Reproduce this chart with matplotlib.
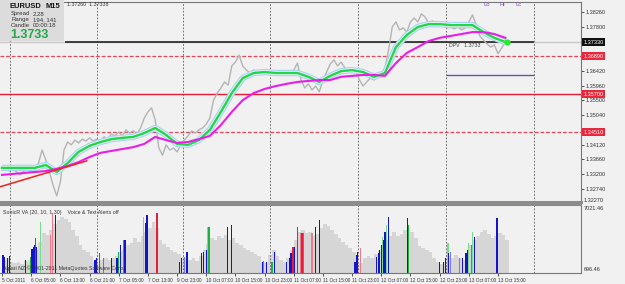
import matplotlib.pyplot as plt
from matplotlib.patches import Rectangle
import numpy as np

plt.rcParams['font.family'] = ['Liberation Sans', 'DejaVu Sans']

# EURUSD M15 closes, one reading every 4 bars
close = [1.3332, 1.3339, 1.3329, 1.3336, 1.3326, 1.3317, 1.3329, 1.3336, 1.3326, 1.3339,
         1.3354, 1.3395, 1.3364, 1.3326, 1.3285, 1.3251, 1.3295, 1.3395, 1.3420, 1.3411,
         1.3426, 1.3417, 1.3429, 1.3423, 1.3433, 1.3423, 1.3429, 1.3423, 1.3436, 1.3429,
         1.3445, 1.3439, 1.3451, 1.3439, 1.3458, 1.3448, 1.3455, 1.3445, 1.3464, 1.3495,
         1.3514, 1.3527, 1.3489, 1.3401, 1.3379, 1.3411, 1.3395, 1.3401, 1.3389, 1.3411,
         1.3426, 1.3439, 1.3455, 1.3448, 1.3458, 1.3464, 1.3476, 1.3495, 1.3551, 1.3573,
         1.3589, 1.3608, 1.3598, 1.3658, 1.3670, 1.3692, 1.3658, 1.3645, 1.3636, 1.3645,
         1.3639, 1.3642, 1.3636, 1.3639, 1.3633, 1.3639, 1.3630, 1.3636, 1.3633, 1.3639,
         1.3645, 1.3667, 1.3614, 1.3589, 1.3602, 1.3583, 1.3595, 1.3577, 1.3614, 1.3639,
         1.3664, 1.3677, 1.3658, 1.3670, 1.3652, 1.3645, 1.3652, 1.3639, 1.3614, 1.3595,
         1.3608, 1.3620, 1.3614, 1.3624, 1.3633, 1.3652, 1.3708, 1.3780, 1.3796, 1.3771,
         1.3777, 1.3764, 1.3796, 1.3808, 1.3796, 1.3821, 1.3811, 1.3793, 1.3799, 1.3789,
         1.3796, 1.3786, 1.3777, 1.3780, 1.3774, 1.3780, 1.3771, 1.3777, 1.3796, 1.3818,
         1.3786, 1.3752, 1.3739, 1.3727, 1.3717, 1.3724, 1.3696, 1.3714, 1.3733]

# moving averages, one reading every 12 bars
ma_fast = [1.3339, 1.3339, 1.3339, 1.3339, 1.3348, 1.3326, 1.3354, 1.3389, 1.3408, 1.3420,
           1.3429, 1.3433, 1.3436, 1.3448, 1.3464, 1.3442, 1.3414, 1.3411, 1.3426, 1.3458,
           1.3514, 1.3573, 1.3620, 1.3636, 1.3639, 1.3636, 1.3636, 1.3636, 1.3624, 1.3608,
           1.3627, 1.3642, 1.3645, 1.3639, 1.3624, 1.3636, 1.3717, 1.3755, 1.3780, 1.3789,
           1.3789, 1.3786, 1.3786, 1.3786, 1.3764, 1.3746, 1.3733]
ma_slow = [1.3317, 1.3320, 1.3323, 1.3326, 1.3329, 1.3336, 1.3345, 1.3357, 1.3373, 1.3386,
           1.3392, 1.3398, 1.3404, 1.3414, 1.3436, 1.3426, 1.3417, 1.3420, 1.3429, 1.3439,
           1.3473, 1.3514, 1.3551, 1.3573, 1.3586, 1.3595, 1.3602, 1.3608, 1.3611, 1.3614,
           1.3614, 1.3624, 1.3627, 1.3630, 1.3630, 1.3627, 1.3667, 1.3699, 1.3717, 1.3736,
           1.3746, 1.3752, 1.3758, 1.3764, 1.3764, 1.3758, 1.3746]

# tick volume, one reading every 4 bars
volume = [1900, 2070, 1700, 1600, 1700, 1500, 1800, 1900, 2160, 2820,
          3560, 4400, 4220, 4690, 5250, 5620, 5900, 5710, 5430, 4690,
          4120, 3280, 2820, 2630, 2250, 1700, 1500, 1900, 2070, 1900,
          2070, 2250, 2630, 2820, 3280, 3470, 3940, 3560, 4120, 4500,
          4880, 5430, 4880, 3750, 3380, 3100, 2820, 2630, 2440, 2160,
          2070, 1900, 2070, 1800, 2250, 2820, 3380, 3940, 3750, 4120,
          3940, 4220, 3750, 3940, 3470, 3280, 3000, 2820, 2630, 2440,
          2250, 1700, 1600, 2350, 2820, 2250, 1900, 1700, 2070, 2820,
          3750, 4500, 4690, 4400, 4500, 4120, 4310, 4880, 5250, 5060,
          4690, 4310, 3940, 3560, 3280, 3000, 2630, 1700, 1600, 2070,
          2250, 2070, 2440, 2820, 3280, 3750, 4120, 4500, 4120, 4310,
          4690, 4880, 4500, 3940, 3190, 3000, 2820, 2630, 2070, 1700,
          1500, 1700, 2250, 2070, 2350, 2070, 1900, 2440, 3280, 3750,
          4120, 4500, 4690, 4310, 3940, 4120, 4400, 4220, 3750]

# SonicR VA highlighted bars
signal_bar = [1, 3, 6, 8, 26, 31, 33, 35, 36, 37, 38, 42, 53, 55, 59,
              102, 104, 107, 111, 120, 126, 128, 130, 133, 135, 155, 157, 159, 170,
              195, 197, 200, 203, 219, 221, 224, 226, 227, 247, 252,
              286, 287, 290, 296, 299, 312, 315, 317, 319, 321, 324, 327, 329, 331,
              340, 344, 348, 387, 389, 390, 393, 411, 413, 414, 416, 417, 418, 420,
              422, 424, 445, 446, 480, 484, 486, 489, 490, 492, 502, 505, 509, 511,
              512, 515, 516, 518, 542, 543]
signal_vol = [2350, 2160, 2070, 2250, 1900, 2160, 2900, 3100, 3300, 3940, 3100, 5430, 4220, 6270, 6090,
              1900, 2070, 2540, 2070, 2070, 2070, 2630, 3280, 3750, 3750, 5900, 5340, 6090, 6270,
              1700, 2070, 2160, 2630, 2540, 2630, 2820, 4970, 4970, 4970, 5150,
              1700, 1800, 1700, 1700, 2630, 1700, 2070, 2540, 3100, 3100, 4970, 4400, 4400, 4400,
              4400, 4970, 5620, 1700, 2350, 2630, 3000, 2160, 2540, 2820, 3280, 4030, 3750, 4500,
              5150, 5900, 5800, 5150, 1700, 1700, 2070, 3470, 2540, 2630, 2070, 2070, 2540, 2820,
              3470, 3280, 4500, 4030, 5800, 5800]
signal_kind = ['B', 'B', 'B', 'B', 'B', 'G', 'B', 'B', 'B', 'R', 'B', 'g', 'r', 'r', 'B',
               'B', 'B', 'R', 'G', 'B', 'B', 'G', 'B', 'G', 'B', 'g', 'B', 'B', 'R',
               'B', 'B', 'b', 'B', 'B', 'B', 'B', 'g', 'G', 'B', 'B',
               'B', 'b', 'B', 'G', 'B', 'B', 'B', 'B', 'R', 'B', 'R', 'r', 'R', 'G',
               'r', 'B', 'B', 'B', 'B', 'B', 'r', 'B', 'B', 'B', 'B', 'g', 'B', 'B',
               'g', 'B', 'B', 'G', 'B', 'B', 'B', 'g', 'B', 'b', 'b', 'B', 'B', 'B',
               'g', 'G', 'g', 'B', 'R', 'B']

SIGNAL_COLORS = {'B': '#1414c8', 'b': '#7878e8', 'G': '#1eb43c',
                 'g': '#78dc8c', 'R': '#e61e3c', 'r': '#f0788c'}

time_labels = ['5 Oct 2011', '6 Oct 05:00', '6 Oct 13:00', '6 Oct 21:00', '7 Oct 05:00',
               '7 Oct 13:00', '9 Oct 23:00', '10 Oct 07:00', '10 Oct 15:00', '10 Oct 23:00',
               '11 Oct 07:00', '11 Oct 15:00', '11 Oct 23:00', '12 Oct 07:00', '12 Oct 15:00',
               '12 Oct 23:00', '13 Oct 07:00', '13 Oct 15:00']
day_start_bars = [9, 104, 199, 294, 390, 487, 583]

trend_bars = [-2, 93]
trend_prices = [1.3280, 1.3361]

price_now = 1.3733
red_levels = [1.3689, 1.3570, 1.3451]
dpv_level = 1.3630
price_ticks = [1.3826, 1.3780, 1.3642, 1.3596, 1.3550, 1.3504, 1.3412, 1.3366, 1.3320, 1.3274]

W, H = 625, 284
BG = '#f1f1f1'


def box(x0, y0, x1, y1):
    # pixel box (top-left origin) -> figure fraction rect
    return [x0 / W, 1 - y1 / H, (x1 - x0) / W, (y1 - y0) / H]


fig = plt.figure(figsize=(W / 100, H / 100), dpi=100)
fig.patch.set_facecolor(BG)

ax = fig.add_axes(box(0, 2, 581, 202))
axv = fig.add_axes(box(0, 205, 581, 272.7), sharex=ax)
for a in (ax, axv):
    a.set_facecolor(BG)
    for s in a.spines.values():
        s.set_color('#777777')
        s.set_linewidth(0.8)
    a.spines['left'].set_visible(False)
ax.spines['bottom'].set_linewidth(2.2)
ax.spines['bottom'].set_color('#8c8c8c')
axv.spines['top'].set_linewidth(1.5)
axv.spines['top'].set_color('#8c8c8c')

# ---- price panel
for b in day_start_bars:
    ax.axvline(b, color='#555555', lw=0.6, ls=(0, (2, 2)))
    axv.axvline(b, color='#555555', lw=0.6, ls=(0, (2, 2)))

ax.axhline(price_now, color='#c8c8c8', lw=1)
ax.hlines(price_now, 69, 584, color='#222222', lw=1.2)
ax.hlines(dpv_level, 487, 584, color='#5a5aa0', lw=1)
ax.axhline(red_levels[0], color='#e0485a', lw=0.9, ls=(0, (3, 1.5)))
ax.axhline(red_levels[1], color='#e01e32', lw=1.0)
ax.axhline(red_levels[2], color='#e0485a', lw=0.9, ls=(0, (3, 1.5)))

price_bars = np.arange(len(close)) * 4
ma_bars = np.arange(len(ma_fast)) * 12
ax.plot(price_bars, close, color='#b4b4b4', lw=1.0)
ax.plot(ma_bars, ma_fast, color='#a8d2f4', lw=4.6, solid_capstyle='butt')
ax.plot(ma_bars, ma_fast, color=BG, lw=3.0, solid_capstyle='butt')
ax.plot(ma_bars, ma_fast, color='#1ed84a', lw=1.7)
ax.plot(ma_bars, ma_slow, color='#e81ee8', lw=1.5)
ax.plot(trend_bars, trend_prices, color='#f02020', lw=1.1)
ax.plot([ma_bars[-1] + 2], [price_now], 'o', color='#22ee22', ms=3.5, zorder=6)

ax.text(490, price_now - 0.0004, 'DPV   1.3733', fontsize=3.8, color='#404040', va='top')
for lab, b in zip(['Lo', 'Hi', 'Lc'], [532, 549, 567]):
    ax.text(b, 1.3849, lab, fontsize=4.2, color='#9040d0', ha='center', va='center')

ax.set_xlim(-2.2, 635)
ax.set_ylim(1.32322, 1.38582)
ax.tick_params(axis='x', bottom=False, labelbottom=False)
ax.yaxis.tick_right()
ax.set_yticks(price_ticks)
ax.set_yticklabels(['%.5f' % p for p in price_ticks])
ax.tick_params(axis='y', length=2, width=0.6, pad=1.5, labelsize=4.0,
               colors='#333333')
ytr = ax.get_yaxis_transform()
ax.text(1.004, 1.3228, '1.32270', transform=ytr, fontsize=4.0, va='bottom', color='#333333')
ax.text(1.004, price_now, '%.5f' % price_now, transform=ytr, fontsize=4.0, va='center',
        color='white', bbox=dict(boxstyle='square,pad=0.25', fc='#111111', ec='none'))
for lvl in red_levels:
    ax.text(1.004, lvl, '%.5f' % lvl, transform=ytr, fontsize=4.0, va='center',
            color='white', bbox=dict(boxstyle='square,pad=0.25', fc='#e8283c', ec='none'))

# ---- volume panel
vol_bars = np.arange(len(volume)) * 4
axv.bar(vol_bars, volume, width=4, color='#d6d6d6', align='edge')
axv.bar(signal_bar, signal_vol, width=1.4,
        color=[SIGNAL_COLORS[k] for k in signal_kind])
axv.set_ylim(696.46, 7021.46)
axv.set_yticks([])
axv.text(1.004, 0.985, '7021.46', transform=axv.transAxes, fontsize=4.0, va='top', color='#333333')
axv.text(1.004, 0.01, '696.46', transform=axv.transAxes, fontsize=4.0, va='bottom', color='#333333')
axv.text(0.005, 0.93, 'SonicR VA (20, 10, 1.30)    Voice & Text Alerts off', transform=axv.transAxes,
         fontsize=3.8, color='#333333', va='top')
axv.text(0.005, 0.02, 'Alpari NZ \u00a9 2001-2011 MetaQuotes Software Corp.', transform=axv.transAxes,
         fontsize=3.8, color='#333333', va='bottom')

axv.set_xticks(np.arange(len(time_labels)) * 32)
axv.set_xticklabels(time_labels, ha='left')
axv.tick_params(axis='x', length=2, width=0.6, pad=2, labelsize=3.4, colors='#333333')

# ---- info box
fig.add_artist(Rectangle((0, 1 - 41 / H), 64 / W, 41 / H, transform=fig.transFigure,
                         facecolor='#dcdcdc', edgecolor='none', zorder=5))


def px_text(x, y, s, **kw):
    fig.text(x / W, 1 - y / H, s, zorder=6, va='center', **kw)


px_text(10, 6, 'EURUSD', fontsize=5.4, weight='bold', color='#111111')
px_text(46, 6, 'M15', fontsize=5.4, weight='bold', color='#111111')
for row, (k, v) in enumerate([('Spread', '2.28'), ('Range', '194, 141'), ('Candle', '00:00:18')]):
    px_text(11, 14 + row * 5.6, k, fontsize=4.3, color='#333333')
    px_text(33, 14 + row * 5.6, v, fontsize=4.3, color='#333333')
px_text(10, 35, '1.3733', fontsize=9, weight='bold', color='#21a846')
px_text(67, 5, '1.37260  1.37338', fontsize=3.8, color='#333333')

fig.savefig('out.png', dpi=100, facecolor=BG)
